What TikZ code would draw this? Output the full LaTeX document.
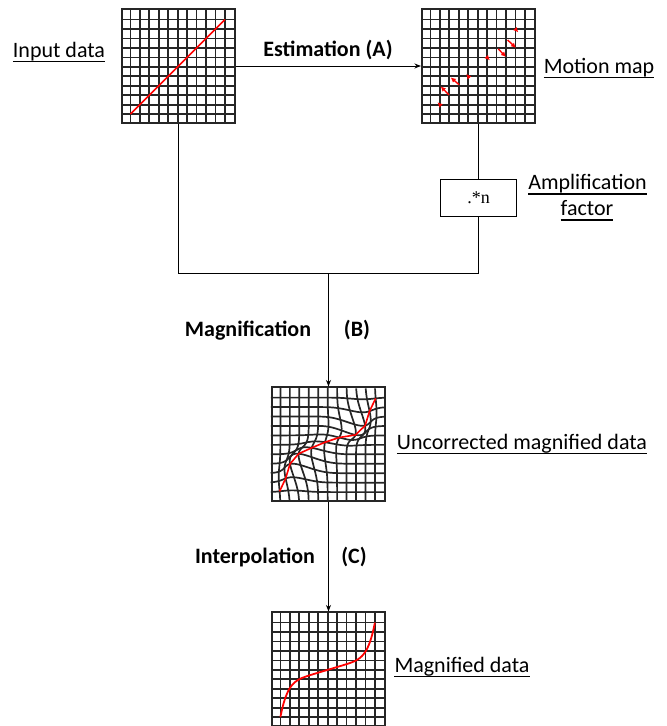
\documentclass[tikz,border=0pt]{standalone}
\usepackage{fontspec}
\setmainfont{Carlito}
\newfontfamily\serifn{Liberation Serif}
\usetikzlibrary{arrows.meta}
\tikzset{
  gridline/.style={line width=1.7pt, black!85, line join=round},
  gridbox/.style={draw, line width=1.7pt, black!85, minimum width=113.4pt, minimum height=113.4pt, inner sep=0pt},
  conn/.style={line width=1pt, black},
  arr/.style={conn, -{Stealth[length=6.5pt,width=5pt]}},
  lbl/.style={font=\fontsize{22}{26}\selectfont, inner sep=0pt, anchor=base},
  blbl/.style={lbl, font=\fontsize{22}{26}\selectfont\bfseries},
  ul/.style={line width=1.2pt},
  redl/.style={red, line width=1.6pt, line join=round},
  motion/.style={red, line width=1.4pt, -{Latex[length=5pt,width=5pt]}},
}
\newcommand\myplaingrid{%
  \foreach \i in {1,...,11}{\draw[gridline] (\i,0) -- (\i,12); \draw[gridline] (0,\i) -- (12,\i);}}
\begin{document}
\begin{tikzpicture}[x=1pt,y=-1pt,
  declare function={
    G(\x,\y,\k)=exp(max(-8,-((\x-\k)*(\x-\k)+(\y-\k)*(\y-\k))/2.0));
    S(\x,\y)=0.193*G(\x,\y,2)+0.653*G(\x,\y,3)+0.683*G(\x,\y,4)+0.369*G(\x,\y,5)+0.146*G(\x,\y,6)-0.012*G(\x,\y,7)-0.71*G(\x,\y,8)-0.632*G(\x,\y,9)-0.191*G(\x,\y,10);
  }]
\useasboundingbox (0,0) rectangle (667,726);

% grids
\node[gridbox] (ig) at (178.5,66) {};
\node[gridbox] (mm) at (478.5,66) {};
\node[draw, line width=1pt, minimum width=76pt, minimum height=37pt, inner sep=0pt, font=\serifn\fontsize{18}{20}\selectfont] (amp) at (478.5,197.5) {.*n};
\node[gridbox] (ug) at (328.5,444) {};
\node[gridbox] (mg) at (328.5,669) {};
\coordinate (j) at (328.5,273.5);

% input data grid
\begin{scope}[shift={(ig.south west)}, x=9.45pt, y=9.45pt]
  \myplaingrid
  \draw[redl] (1,1) -- (11,11);
\end{scope}

% motion map grid
\begin{scope}[shift={(mm.south west)}, x=9.45pt, y=9.45pt]
  \myplaingrid
  \draw[motion] (2,2) -- (1.75,2.25);
  \draw[motion] (2.97,3.04) -- (2.09,3.93);
  \draw[motion] (4.04,4.11) -- (3.15,4.88);
  \draw[motion] (5,5) -- (4.8,5.25);
  \draw[motion] (7,7) -- (7.28,6.7);
  \draw[motion] (8.18,7.9) -- (9.0,7.05);
  \draw[motion] (9.17,8.85) -- (10.05,8.0);
  \draw[motion] (10,10) -- (10.3,9.65);
\end{scope}

% uncorrected magnified grid
\begin{scope}[shift={(ug.south west)}, x=9.45pt, y=9.45pt]
  \foreach \i in {1,...,11}{
    \draw[gridline] plot[domain=0:12, samples=61] ({\i-S(\i,\x)},{\x+S(\i,\x)});
    \draw[gridline] plot[domain=0:12, samples=61] ({\x-S(\x,\i)},{\i+S(\x,\i)});
  }
  \draw[redl] plot[samples at={1,...,11}] ({\x-S(\x,\x)},{\x+S(\x,\x)});
\end{scope}

% magnified data grid
\begin{scope}[shift={(mg.south west)}, x=9.45pt, y=9.45pt]
  \myplaingrid
  \draw[red, line width=1.8pt] plot[domain=-1:1, samples=80, smooth] ({6+5*\x},{6+5*(0.3*\x+0.7*\x^7)});
\end{scope}

% connectors
\draw[arr] (ig.east) -- (mm.west);
\draw[conn] (mm.south) -- (amp.north);
\draw[conn] (ig.south) |- (j);
\draw[conn] (amp.south) |- (j);
\draw[arr] (j) -- (ug.north);
\draw[arr] (ug.south) -- (mg.north);

% labels
\node[lbl] (tin) at (59,57) {Input data};
\draw[ul] ([yshift=-4.5pt]tin.base west) -- ([yshift=-4.5pt]tin.base east);
\node[blbl] (test) at (328,56) {Estimation (A)};
\node[lbl] (tmm) at (599,73) {Motion map};
\draw[ul] ([yshift=-4.5pt]tmm.base west) -- ([yshift=-4.5pt]tmm.base east);
\node[lbl] (tamp) at (587.5,189.5) {Amplification};
\draw[ul] ([yshift=-4.5pt]tamp.base west) -- ([yshift=-4.5pt]tamp.base east);
\node[lbl] (tfac) at (587,215.5) {factor};
\draw[ul] ([yshift=-4.5pt]tfac.base west) -- ([yshift=-4.5pt]tfac.base east);
\node[blbl] (tmag) at (248,336.5) {Magnification};
\node[blbl] (tb) at (357,336.5) {(B)};
\node[blbl] (tint) at (255,563) {Interpolation};
\node[blbl] (tc) at (354,563) {(C)};
\node[lbl] (tunc) at (522,449) {Uncorrected magnified data};
\draw[ul] ([yshift=-4.5pt]tunc.base west) -- ([yshift=-4.5pt]tunc.base east);
\node[lbl] (tmd) at (462,672) {Magnified data};
\draw[ul] ([yshift=-4.5pt]tmd.base west) -- ([yshift=-4.5pt]tmd.base east);
\end{tikzpicture}
\end{document}
